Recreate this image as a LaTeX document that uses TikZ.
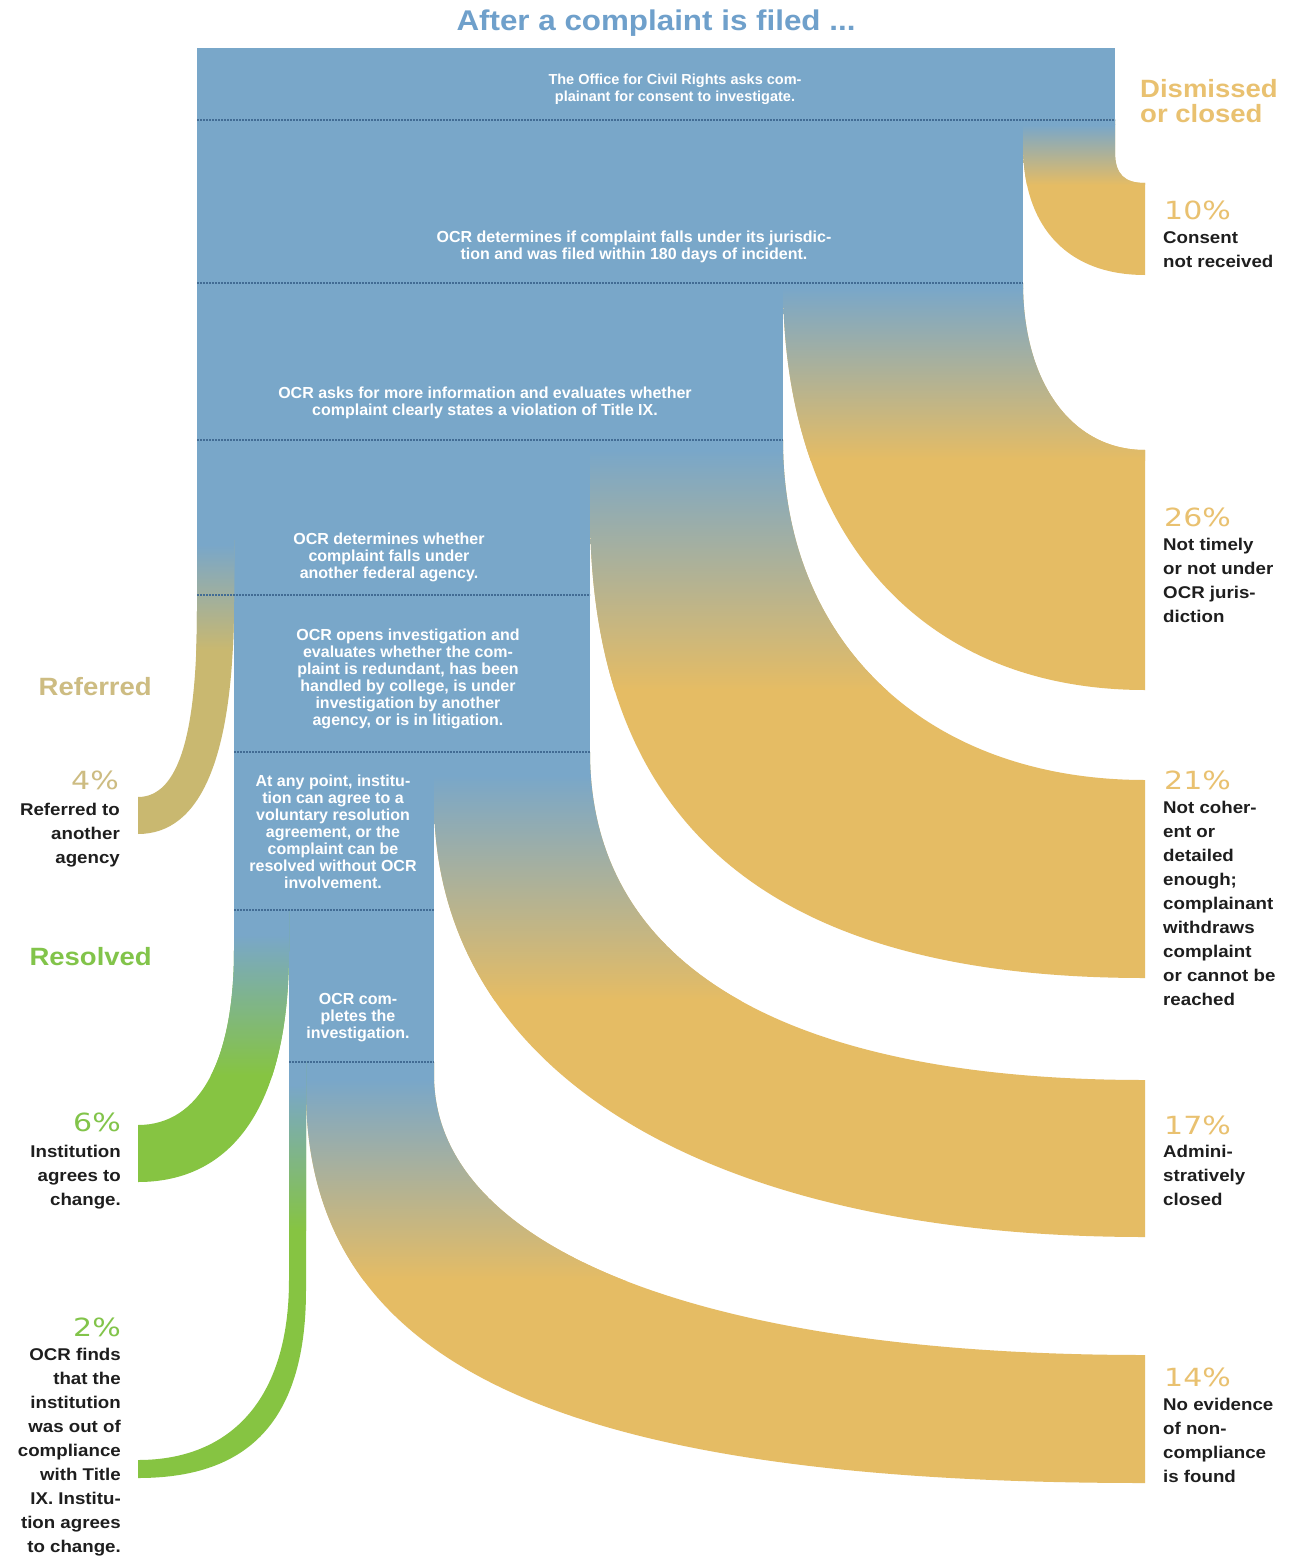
\documentclass[tikz,border=0pt]{standalone}
\usepackage{fontspec}
\setmainfont{Liberation Sans}
\newfontfamily\lblfont[FakeStretch=1.1]{Liberation Sans}
\newfontfamily\pctfont[FakeStretch=1.2]{DejaVu Sans}
\definecolor{cblue}{RGB}{121,167,201}
\definecolor{corange}{RGB}{229,188,100}
\definecolor{cgreen}{RGB}{134,196,66}
\definecolor{ctan}{RGB}{201,184,112}
\definecolor{ctitle}{RGB}{111,160,203}
\definecolor{cpct}{RGB}{233,193,112}
\definecolor{cref}{RGB}{205,188,130}
\definecolor{cgrn}{RGB}{130,196,74}
\definecolor{cdot}{RGB}{66,108,148}
\definecolor{ctext}{RGB}{30,30,30}
\tikzset{
 boxtxt/.style={text=white, align=center, inner sep=0pt, font=\bfseries\fontsize{16}{17}\selectfont},
 desc/.style={text=ctext, align=left, anchor=north west, inner sep=0pt, font=\lblfont\bfseries\fontsize{17}{24}\selectfont},
 descl/.style={text=ctext, align=right, anchor=north east, inner sep=0pt, font=\lblfont\bfseries\fontsize{17}{24}\selectfont},
 pct/.style={inner sep=0pt, font=\pctfont\fontsize{25}{28}\selectfont},
 cat/.style={inner sep=0pt, font=\lblfont\bfseries\fontsize{25}{25}\selectfont},
 divider/.style={draw=cdot, line width=1.6pt, dash pattern=on 1.6pt off 1.4pt},
}
\begin{document}
\begin{tikzpicture}[x=1pt,y=-1pt]
\useasboundingbox[fill=white] (0,0) rectangle (1293,1557);

% main blue column
\fill[cblue] (197,48) rectangle (1115,120.5);
\fill[cblue] (197,120) rectangle (1023,283.5);
\fill[cblue] (197,283) rectangle (783,440.5);
\fill[cblue] (197,440) rectangle (590,595.5);
\fill[cblue] (234,595) rectangle (590,752.5);
\fill[cblue] (234,752) rectangle (434,910.5);
\fill[cblue] (289,910) rectangle (434,1062.5);

% 10% band
\begin{scope}
\clip (1023,120) -- (1115,120) -- (1115,152) .. controls (1115,175) and (1125,183) .. (1145,183) -- (1145,275) .. controls (1070,275) and (1023,230) .. (1023,145) -- cycle;
\fill[corange] (1020,118) rectangle (1150,280);
\shade[top color=cblue,bottom color=corange] (1020,125) rectangle (1150,185);
\fill[cblue] (1020,118) rectangle (1150,125.5);
\end{scope}

% 26% band
\begin{scope}
\clip (783,283) -- (1023,283) .. controls (1023,383) and (1072,450) .. (1145,450) -- (1145,690) .. controls (921,690) and (783,535) .. (783,283) -- cycle;
\fill[corange] (780,280) rectangle (1150,695);
\shade[top color=cblue,bottom color=corange] (780,288) rectangle (1150,460);
\fill[cblue] (780,280) rectangle (1150,288.5);
\end{scope}

% 21% band
\begin{scope}
\clip (590,440) -- (783,440) .. controls (783,644) and (928,780) .. (1145,780) -- (1145,978) .. controls (768,978) and (590,825) .. (590,510) -- cycle;
\fill[corange] (587,437) rectangle (1150,982);
\shade[top color=cblue,bottom color=corange] (587,450) rectangle (1150,690);
\fill[cblue] (587,437) rectangle (1150,450.5);
\end{scope}

% 17% band
\begin{scope}
\clip (434,752) -- (590,752) .. controls (590,965) and (784,1080) .. (1145,1080) -- (1145,1237) .. controls (704,1237) and (434,1071) .. (434,800) -- cycle;
\fill[corange] (431,749) rectangle (1150,1240);
\shade[top color=cblue,bottom color=corange] (431,775) rectangle (1150,1000);
\fill[cblue] (431,749) rectangle (1150,775.5);
\end{scope}

% 14% band
\begin{scope}
\clip (306,1062) -- (434,1062) -- (434,1075) .. controls (434,1249) and (704,1355) .. (1145,1355) -- (1145,1483) .. controls (558,1483) and (306,1365) .. (306,1090) -- cycle;
\fill[corange] (303,1059) rectangle (1150,1487);
\shade[top color=cblue,bottom color=corange] (303,1080) rectangle (1150,1280);
\fill[cblue] (303,1059) rectangle (1150,1080.5);
\end{scope}

% 2% band
\begin{scope}
\clip (289,1062) -- (306,1062) -- (306,1290) .. controls (306,1430) and (240,1478) .. (138,1478) -- (138,1460) .. controls (230,1460) and (289,1400) .. (289,1280) -- cycle;
\fill[cgreen] (135,1059) rectangle (310,1482);
\shade[top color=cblue,bottom color=cgreen] (135,1085) rectangle (310,1230);
\fill[cblue] (135,1059) rectangle (310,1085.5);
\end{scope}

% 6% band
\begin{scope}
\clip (234,910) -- (289,910) -- (289,950) .. controls (289,1110) and (230,1182) .. (138,1182) -- (138,1125) .. controls (200,1125) and (234,1060) .. (234,950) -- cycle;
\fill[cgreen] (135,907) rectangle (292,1186);
\shade[top color=cblue,bottom color=cgreen] (135,935) rectangle (292,1075);
\fill[cblue] (135,907) rectangle (292,935.5);
\end{scope}

% 4% band
\begin{scope}
\clip (197,540) -- (234,540) -- (234,600) .. controls (234,760) and (200,834) .. (138,834) -- (138,797) .. controls (180,797) and (197,730) .. (197,610) -- cycle;
\fill[ctan] (135,537) rectangle (237,838);
\shade[top color=cblue,bottom color=ctan] (135,545) rectangle (237,650);
\fill[cblue] (135,537) rectangle (237,545.5);
\end{scope}

% dividers
\draw[divider] (197,120) -- (1115,120);
\draw[divider] (197,283) -- (1023,283);
\draw[divider] (197,440) -- (783,440);
\draw[divider] (197,595) -- (590,595);
\draw[divider] (234,752) -- (590,752);
\draw[divider] (234,910) -- (434,910);
\draw[divider] (289,1062) -- (434,1062);

% title
\node[font=\lblfont\bfseries\fontsize{28.5}{30}\selectfont, text=ctitle, inner sep=0pt] (title) at (656,23) {After a complaint is filed ...};

% step texts
\node[boxtxt, font=\bfseries\fontsize{14.5}{17}\selectfont] (s1) at (675,89) {The Office for Civil Rights asks com-\\plainant for consent to investigate.};
\node[boxtxt] (s2) at (634,247) {OCR determines if complaint falls under its jurisdic-\\tion and was filed within 180 days of incident.};
\node[boxtxt] (s3) at (485,403) {OCR asks for more information and evaluates whether\\complaint clearly states a violation of Title IX.};
\node[boxtxt] (s4) at (389,557) {OCR determines whether\\complaint falls under\\another federal agency.};
\node[boxtxt] (s5) at (408,679) {OCR opens investigation and\\evaluates whether the com-\\plaint is redundant, has been\\handled by college, is under\\investigation by another\\agency, or is in litigation.};
\node[boxtxt] (s6) at (333,832) {At any point, institu-\\tion can agree to a\\voluntary resolution\\agreement, or the\\complaint can be\\resolved without OCR\\involvement.};
\node[boxtxt] (s7) at (358,1018) {OCR com-\\pletes the\\investigation.};

% category labels
\node[cat, text=cpct, align=left, anchor=north west] (dis) at (1140,79) {Dismissed\\or closed};
\node[cat, text=cref, anchor=east] (ref) at (152,687) {Referred};
\node[cat, text=cgrn, anchor=east] (res) at (152,957) {Resolved};

% percentages
\node[pct, text=cpct, anchor=west] (p10) at (1164,210) {10\%};
\node[pct, text=cpct, anchor=west] (p26) at (1164,517) {26\%};
\node[pct, text=cpct, anchor=west] (p21) at (1164,780) {21\%};
\node[pct, text=cpct, anchor=west] (p17) at (1164,1125) {17\%};
\node[pct, text=cpct, anchor=west] (p14) at (1164,1377) {14\%};
\node[pct, text=cref, anchor=east] (p4) at (119,780) {4\%};
\node[pct, text=cgrn, anchor=east] (p6) at (121,1122) {6\%};
\node[pct, text=cgrn, anchor=east] (p2) at (121,1327) {2\%};

% descriptions
\node[desc] (d10) at (1163,231) {Consent\\not received};
\node[desc] (d26) at (1163,538) {Not timely\\or not under\\OCR juris-\\diction};
\node[desc] (d21) at (1163,801) {Not coher-\\ent or\\detailed\\enough;\\complainant\\withdraws\\complaint\\or cannot be\\reached};
\node[desc] (d17) at (1163,1145) {Admini-\\stratively\\closed};
\node[desc] (d14) at (1163,1398) {No evidence\\of non-\\compliance\\is found};
\node[descl] (d4) at (120,803) {Referred to\\another\\agency};
\node[descl] (d6) at (121,1145) {Institution\\agrees to\\change.};
\node[descl] (d2) at (121,1348) {OCR finds\\that the\\institution\\was out of\\compliance\\with Title\\IX. Institu-\\tion agrees\\to change.};
\end{tikzpicture}
\end{document}
